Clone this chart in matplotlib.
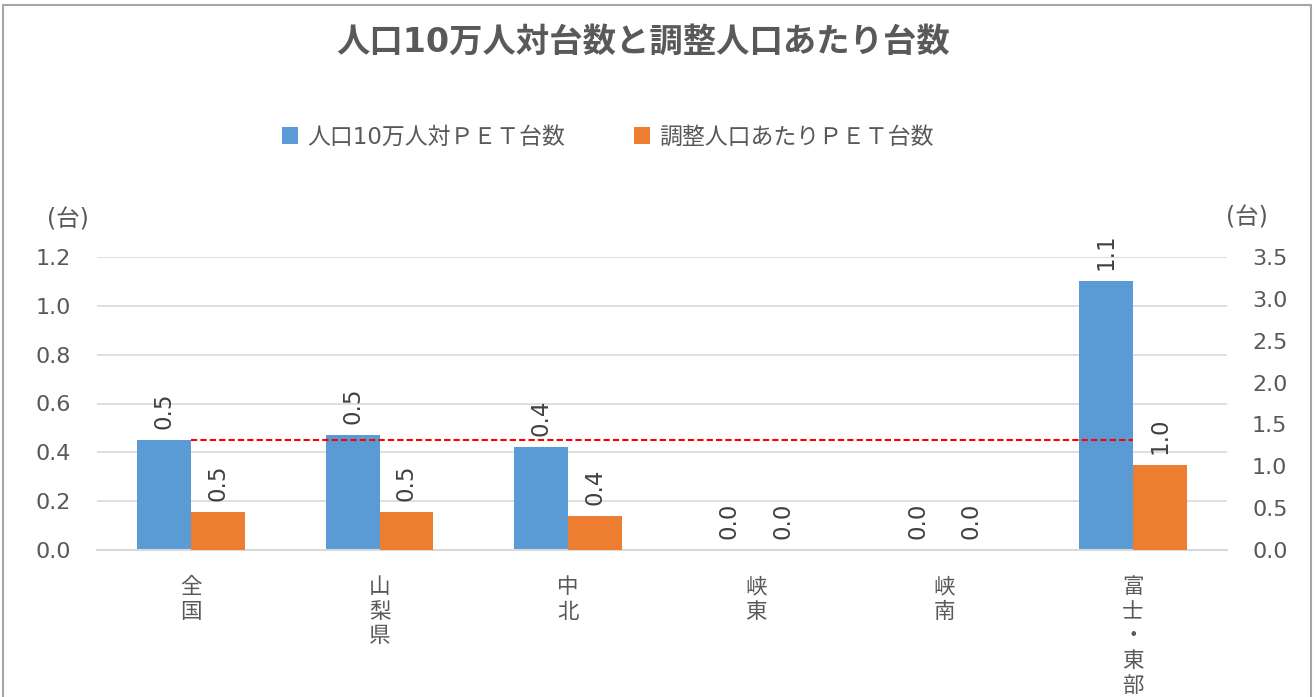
#!/usr/bin/env python3
# -*- coding: utf-8 -*-
import numpy as np
import matplotlib
matplotlib.use('Agg')
import matplotlib.pyplot as plt
from matplotlib.patches import Rectangle

# latin glyphs from DejaVu, kana/kanji fall back to Noto CJK
plt.rcParams['font.family'] = ['DejaVu Sans', 'Noto Sans CJK JP']

areas = ['全国', '山梨県', '中北', '峡東', '峡南', '富士・東部']
per_100k = [0.45, 0.47, 0.42, 0.0, 0.0, 1.10]     # left axis
per_adjusted = [0.45, 0.45, 0.41, 0.0, 0.0, 1.02]  # right axis
national_avg = 0.45

blue = '#5b9bd5'
orange = '#ed7d31'
grey = '#595959'
gridc = '#d9d9d9'

fig = plt.figure(figsize=(13.16, 6.97), dpi=100)
ax = fig.add_axes([97 / 1316, 1 - 550 / 697, 1130 / 1316, 293 / 697])
ax2 = ax.twinx()

x = np.arange(len(areas))
w = 0.285
b1 = ax.bar(x - w / 2, per_100k, w, color=blue, zorder=2, label='人口10万人対ＰＥＴ台数')
b2 = ax2.bar(x + w / 2, per_adjusted, w, color=orange, zorder=2, label='調整人口あたりＰＥＴ台数')

# national average reference line across the areas
ax.plot(x, [national_avg] * len(x), color='#ff0000', lw=1.5, ls=(0, (3, 1.5)), zorder=3)

ax.set_xlim(-0.5, len(areas) - 0.5)
ax.set_ylim(0, 1.2)
ax2.set_ylim(0, 3.5)
ax.set_yticks(np.arange(0, 1.21, 0.2))
ax2.set_yticks(np.arange(0, 3.51, 0.5))
ax.set_yticklabels([f'{v:.1f}' for v in np.arange(0, 1.21, 0.2)])
ax2.set_yticklabels([f'{v:.1f}' for v in np.arange(0, 3.51, 0.5)])
ax.yaxis.grid(True, color=gridc, lw=1.2, zorder=0)
ax.set_axisbelow(True)

for a in (ax, ax2):
    for s in a.spines.values():
        s.set_visible(False)
    a.tick_params(length=0, labelsize=16, labelcolor=grey)
ax.spines['bottom'].set_visible(True)
ax.spines['bottom'].set_color(gridc)
ax.spines['bottom'].set_linewidth(1.5)
ax.tick_params(axis='y', pad=19)
ax2.tick_params(axis='y', pad=18)

# area names stacked vertically, one character per line
ax.set_xticks(x)
ax.set_xticklabels(['\n'.join(a) for a in areas], fontsize=15.5, linespacing=1.15, va='top',
                   family='Noto Sans CJK JP')
ax.tick_params(axis='x', pad=19)

# value labels, rotated like the original
for a, bars, vals in ((ax, b1, per_100k), (ax2, b2, per_adjusted)):
    for bar, v in zip(bars, vals):
        a.annotate(f'{v:.1f}', (bar.get_x() + bar.get_width() / 2, v),
                   xytext=(0, 8), textcoords='offset points', rotation=90,
                   ha='center', va='bottom', fontsize=16.5, color='#404040')

fig.text(68 / 1316, 1 - 220 / 697, '(台)', ha='center', va='center', fontsize=17, color=grey)
fig.text(1247 / 1316, 1 - 218 / 697, '(台)', ha='center', va='center', fontsize=17, color=grey)

fig.text(643 / 1316, 1 - 42 / 697, '人口10万人対台数と調整人口あたり台数', ha='center', va='center',
         fontsize=24, fontweight='bold', color=grey)

fig.legend(handles=[b1, b2], loc='center', bbox_to_anchor=(608 / 1316, 1 - 137 / 697), ncol=2,
           frameon=False, fontsize=16.5, handlelength=0.7, handleheight=0.7, handletextpad=0.4,
           columnspacing=3.0, labelcolor=grey)

fig.patches.append(Rectangle((3 / 1316, -0.1), 1308 / 1316, 1.1 - 5 / 697, transform=fig.transFigure,
                             fill=False, edgecolor='#a6a6a6', lw=1.5))

fig.savefig('out.png', dpi=100)
